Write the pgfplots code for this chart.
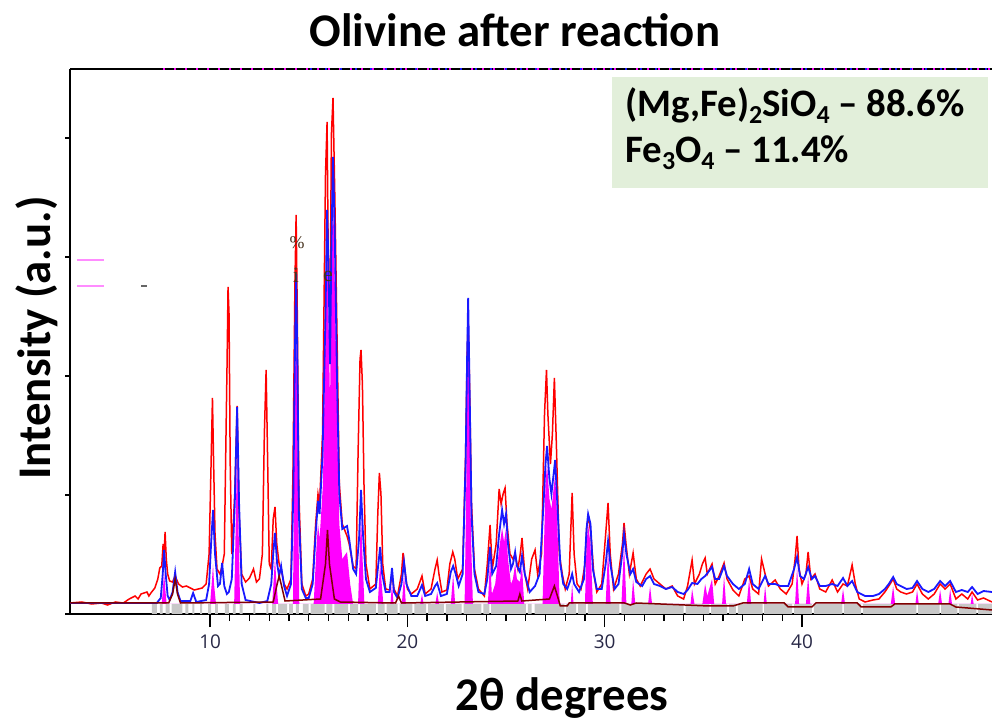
\documentclass[border=0pt]{standalone}
\usepackage{fontspec}
\setmainfont{Carlito}
\newfontfamily\tickfont{Open Sans}
\newfontfamily\serifmark{Liberation Serif}
\usepackage{pgfplots}
\pgfplotsset{compat=1.18}
\definecolor{boxgreen}{RGB}{226,239,218}
\definecolor{ticktext}{RGB}{40,40,70}
\definecolor{dred}{RGB}{128,0,0}
\definecolor{bl}{RGB}{25,25,255}
\definecolor{mag}{RGB}{255,0,255}
\definecolor{rd}{RGB}{255,0,0}
\definecolor{band}{RGB}{200,200,200}
\definecolor{marktext}{RGB}{70,50,30}
\begin{document}
\begin{tikzpicture}
\path[use as bounding box] (-70bp,-107bp) rectangle (922bp,614bp);
\begin{axis}[
 at={(0,0)}, anchor=south west,
 scale only axis, width=922bp, height=545bp,
 xmin=2.9, xmax=49.63, ymin=0, ymax=545,
 axis x line*=box, axis y line*=left,
 xtick={10,20,30,40}, minor x tick num=9,
 ytick=\empty,
 tick align=outside, xtick pos=bottom,
 major tick length=13bp, minor tick length=7bp,
 every tick/.style={black, line width=1.3bp},
 axis line style={black, line width=1.8bp},
 xticklabel style={font=\tickfont\fontsize{19}{19}\selectfont, text=ticktext, yshift=-4bp},
 /pgf/number format/assume math mode=true,
]
% grey reflection band
\addplot[ybar interval, fill=band, draw=none] coordinates {
(7.05,10)(7.3,0)(7.45,10)(7.6,0)(7.75,10)(7.95,0)(8.05,10)(8.6,0)(8.75,10)(8.9,0)(9.1,10)(9.2,0)(9.5,10)(9.6,0)(9.9,10)(10.05,0)(10.25,10)(10.4,0)(10.75,10)(10.95,0)(11.15,10)(11.3,0)(11.5,10)(11.65,0)(12.2,10)(12.3,0)(12.85,10)(12.95,0)(13.15,10)(13.35,0)(13.45,10)(13.9,0)(14.0,10)(14.2,0)(14.35,10)(14.5,0)(14.7,10)(15.0,0)(15.1,10)(15.8,0)(15.9,10)(16.2,0)(16.3,10)(17.0,0)(17.1,10)(17.5,0)(17.6,10)(18.4,0)(18.5,10)(18.85,0)(18.95,10)(19.5,0)(19.6,10)(20.25,0)(20.35,10)(20.95,0)(21.05,10)(21.85,0)(21.95,10)(22.75,0)(22.85,10)(23.75,0)(23.85,10)(24.15,0)(24.25,10)(26.0,0)(26.1,10)(26.3,0)(26.45,10)(27.95,0)(28.05,10)(28.55,0)(28.65,10)(29.05,0)(29.15,10)(30.75,0)(30.85,10)(34.0,0)(34.1,10)(35.3,0)(35.4,10)(36.2,0)(36.3,10)(36.65,0)(36.75,10)(38.0,0)(38.08,10)(39.5,0)(39.6,10)(40.5,0)(40.6,10)(42.05,0)(42.12,10)(43.0,0)(43.08,10)(45.8,0)(45.88,10)(46.97,0)(47.05,10)(47.87,0)(47.95,10)(48.84,0)(48.92,10)(49.63,10)};
% observed (red)
\addplot[rd, line width=1.5bp] coordinates {
(2.9,11)(3.5,12)(4.0,10)(4.5,11)(4.8,9)(5.2,12)(5.6,11)(5.9,15)(6.2,18)(6.35,15)(6.5,20)(6.8,22)(6.9,18)(7.0,21)(7.2,26)(7.35,35)(7.45,46)(7.55,48)(7.62,70)(7.67,60)(7.72,82)(7.78,55)(7.85,40)(7.95,33)(8.1,32)(8.23,38)(8.4,30)(8.6,27)(8.8,28)(9.0,26)(9.2,24)(9.4,25)(9.6,26)(9.8,30)(9.95,60)(10.05,150)(10.12,216)(10.18,150)(10.25,80)(10.35,45)(10.5,40)(10.61,48)(10.72,60)(10.8,170)(10.86,250)(10.91,327)(10.96,300)(11.02,150)(11.1,60)(11.25,120)(11.37,208)(11.47,100)(11.6,40)(11.8,32)(12.0,36)(12.2,45)(12.35,32)(12.5,35)(12.65,60)(12.75,180)(12.84,244)(12.92,150)(13.0,50)(13.1,45)(13.2,95)(13.29,107)(13.38,70)(13.5,50)(13.6,45)(13.75,30)(13.9,25)(14.1,35)(14.2,140)(14.3,330)(14.36,399)(14.42,300)(14.5,120)(14.65,30)(14.85,18)(15.0,20)(15.2,35)(15.35,90)(15.47,120)(15.55,110)(15.7,180)(15.85,440)(15.93,492)(16.0,330)(16.08,300)(16.15,480)(16.23,516)(16.32,420)(16.44,270)(16.55,130)(16.7,90)(16.94,78)(17.05,70)(17.25,48)(17.4,45)(17.5,160)(17.6,255)(17.65,264)(17.72,230)(17.8,130)(17.9,50)(18.1,25)(18.4,30)(18.5,100)(18.58,141)(18.66,120)(18.75,50)(18.9,25)(19.1,24)(19.22,40)(19.32,25)(19.5,18)(19.7,40)(19.78,61)(19.9,40)(20.0,25)(20.2,20)(20.5,25)(20.74,38)(20.9,20)(21.2,25)(21.4,45)(21.51,54)(21.6,40)(21.75,22)(22.0,24)(22.15,50)(22.3,62)(22.4,55)(22.55,35)(22.8,45)(22.95,160)(23.03,260)(23.08,294)(23.14,240)(23.25,110)(23.4,45)(23.6,25)(23.9,18)(24.05,50)(24.19,89)(24.3,45)(24.5,70)(24.65,125)(24.75,110)(24.85,120)(24.95,126)(25.05,90)(25.2,60)(25.35,55)(25.46,60)(25.6,45)(25.72,60)(25.81,76)(25.95,40)(26.1,25)(26.3,55)(26.47,64)(26.6,40)(26.8,60)(26.95,200)(27.05,244)(27.12,200)(27.25,150)(27.35,180)(27.45,236)(27.55,170)(27.7,60)(27.85,40)(28.0,25)(28.2,40)(28.35,121)(28.45,60)(28.6,30)(28.8,25)(29.0,50)(29.1,90)(29.2,95)(29.3,80)(29.45,40)(29.6,22)(29.85,30)(30.05,80)(30.17,111)(30.28,60)(30.45,25)(30.7,40)(30.9,70)(30.98,91)(31.08,70)(31.25,40)(31.44,61)(31.6,35)(31.8,28)(32.1,40)(32.3,45)(32.5,35)(32.8,30)(33.1,25)(33.42,28)(33.7,18)(34.0,15)(34.2,28)(34.43,54)(34.55,30)(34.8,40)(34.95,50)(35.09,56)(35.2,40)(35.44,50)(35.6,30)(35.8,38)(36.05,51)(36.2,35)(36.5,24)(36.8,18)(37.1,35)(37.32,38)(37.5,25)(37.8,20)(37.95,55)(38.13,40)(38.3,28)(38.64,34)(38.9,25)(39.2,20)(39.5,30)(39.65,55)(39.75,78)(39.85,45)(40.0,30)(40.2,40)(40.31,62)(40.45,35)(40.66,40)(40.9,25)(41.2,22)(41.53,34)(41.8,22)(42.08,30)(42.3,28)(42.54,49)(42.7,30)(42.9,15)(43.2,12)(43.6,14)(43.9,15)(44.2,22)(44.4,28)(44.62,35)(44.8,25)(45.0,22)(45.3,20)(45.6,22)(45.83,30)(46.1,20)(46.4,15)(46.7,20)(47.0,30)(47.25,25)(47.51,30)(47.8,15)(48.1,20)(48.4,15)(48.62,22)(48.9,14)(49.2,16)(49.63,12)};
% phase contribution (magenta fill)
\addplot[fill=mag, draw=none] coordinates {
(2.9,10)(7.55,10)(7.62,28)(7.67,42)(7.73,25)(7.8,10)(10.0,10)(10.1,35)(10.15,50)(10.2,30)(10.3,10)(11.22,10)(11.3,90)(11.37,172)(11.44,90)(11.52,10)(13.15,10)(13.24,40)(13.29,56)(13.35,35)(13.45,10)(14.2,10)(14.3,220)(14.36,322)(14.42,200)(14.52,10)(15.25,10)(15.4,70)(15.47,90)(15.55,75)(15.72,130)(15.85,280)(15.93,382)(16.0,300)(16.08,210)(16.15,340)(16.23,432)(16.32,330)(16.44,190)(16.55,90)(16.7,55)(16.94,62)(17.1,30)(17.25,10)(17.5,10)(17.6,70)(17.65,100)(17.72,60)(17.82,10)(18.5,10)(18.58,38)(18.62,50)(18.68,35)(18.78,10)(19.14,10)(19.22,30)(19.3,10)(19.72,10)(19.83,40)(19.92,10)(20.65,10)(20.74,20)(20.82,10)(21.42,10)(21.51,22)(21.6,10)(22.2,10)(22.32,40)(22.42,10)(22.9,10)(22.98,120)(23.03,230)(23.08,300)(23.14,220)(23.22,80)(23.32,10)(24.08,10)(24.19,55)(24.28,20)(24.45,30)(24.65,65)(24.8,86)(24.9,72)(25.0,86)(25.1,55)(25.25,30)(25.35,35)(25.46,50)(25.55,35)(25.7,32)(25.81,48)(25.92,10)(26.85,10)(26.95,90)(27.0,130)(27.08,150)(27.2,115)(27.3,105)(27.49,140)(27.6,90)(27.72,10)(28.28,10)(28.35,30)(28.42,10)(29.0,10)(29.08,70)(29.16,90)(29.28,70)(29.4,10)(30.05,10)(30.17,65)(30.3,10)(30.85,10)(30.98,70)(31.1,10)(31.35,10)(31.44,35)(31.55,10)(32.2,10)(32.3,28)(32.4,10)(34.35,10)(34.43,25)(34.55,10)(34.95,10)(35.09,30)(35.2,18)(35.44,35)(35.55,10)(35.95,10)(36.05,38)(36.15,10)(37.2,10)(37.32,35)(37.42,10)(38.05,10)(38.13,28)(38.22,10)(39.65,10)(39.75,47)(39.85,10)(40.2,10)(40.31,38)(40.42,10)(41.98,10)(42.08,25)(42.18,10)(44.5,10)(44.62,28)(44.72,10)(45.75,10)(45.83,24)(45.92,10)(46.9,10)(47.0,24)(47.1,10)(47.42,10)(47.51,25)(47.6,10)(48.55,10)(48.62,20)(48.7,10)(49.63,10)};
% calculated (blue)
\addplot[bl, line width=1.8bp] coordinates {
(2.9,11)(7.3,11)(7.5,16)(7.6,40)(7.67,64)(7.75,40)(7.85,18)(7.95,14)(8.1,22)(8.23,42)(8.35,22)(8.5,13)(9.0,13)(9.14,21)(9.3,12)(9.8,14)(9.95,30)(10.05,70)(10.15,104)(10.25,60)(10.4,28)(10.5,30)(10.61,51)(10.72,28)(10.85,20)(10.95,22)(11.1,35)(11.25,110)(11.37,207)(11.47,110)(11.6,30)(11.8,14)(12.5,11)(12.9,13)(13.1,30)(13.2,60)(13.29,81)(13.4,50)(13.5,38)(13.6,48)(13.75,28)(13.9,18)(14.1,30)(14.22,120)(14.3,260)(14.36,340)(14.42,260)(14.5,100)(14.65,25)(14.85,16)(15.0,16)(15.2,30)(15.35,80)(15.47,113)(15.55,100)(15.7,160)(15.85,300)(15.93,404)(16.0,350)(16.08,250)(16.15,370)(16.23,457)(16.32,380)(16.44,225)(16.55,120)(16.7,85)(16.94,88)(17.05,75)(17.25,45)(17.4,40)(17.55,75)(17.65,124)(17.75,80)(17.9,35)(18.1,22)(18.4,26)(18.5,45)(18.62,67)(18.72,40)(18.9,22)(19.1,22)(19.22,46)(19.32,22)(19.5,16)(19.7,30)(19.83,52)(19.95,30)(20.2,18)(20.5,18)(20.74,29)(20.9,18)(21.2,20)(21.4,28)(21.51,31)(21.7,18)(22.0,20)(22.2,42)(22.32,48)(22.45,40)(22.6,28)(22.8,40)(22.95,150)(23.03,260)(23.08,316)(23.14,240)(23.25,100)(23.4,40)(23.6,22)(23.9,20)(24.05,35)(24.19,67)(24.3,40)(24.5,48)(24.65,80)(24.8,104)(24.9,90)(25.0,100)(25.1,70)(25.25,45)(25.35,50)(25.46,62)(25.55,48)(25.7,42)(25.81,58)(25.95,40)(26.2,22)(26.47,28)(26.7,40)(26.9,110)(27.0,150)(27.08,168)(27.2,135)(27.3,120)(27.49,154)(27.6,110)(27.75,50)(27.9,30)(28.1,25)(28.25,33)(28.35,40)(28.45,30)(28.7,22)(28.95,35)(29.08,85)(29.16,100)(29.28,90)(29.4,45)(29.6,25)(29.85,25)(30.05,50)(30.17,73)(30.3,48)(30.5,25)(30.7,30)(30.9,62)(30.98,80)(31.1,60)(31.3,40)(31.44,45)(31.6,32)(31.9,28)(32.1,35)(32.3,38)(32.5,30)(32.8,28)(33.1,25)(33.42,27)(33.7,22)(34.0,20)(34.2,24)(34.43,31)(34.7,30)(34.9,35)(35.09,38)(35.25,42)(35.44,47)(35.6,35)(35.8,35)(36.05,48)(36.2,38)(36.5,30)(36.8,25)(37.1,30)(37.32,45)(37.5,30)(37.8,25)(38.13,38)(38.3,30)(38.64,30)(38.9,28)(39.3,28)(39.6,45)(39.75,57)(39.9,38)(40.1,35)(40.31,47)(40.5,35)(40.66,38)(40.9,28)(41.2,28)(41.53,30)(41.8,28)(42.08,36)(42.3,28)(42.54,33)(42.8,22)(43.2,18)(43.6,18)(43.9,20)(44.2,25)(44.4,30)(44.62,37)(44.8,30)(45.0,28)(45.3,25)(45.6,26)(45.83,33)(46.1,25)(46.4,22)(46.7,25)(47.0,33)(47.25,28)(47.51,33)(47.8,22)(48.1,24)(48.4,22)(48.62,27)(48.9,20)(49.2,23)(49.63,22)};
% Fe3O4 contribution (dark red)
\addplot[dred, line width=1.5bp] coordinates {
(2.9,11)(7.9,11)(8.1,20)(8.23,35)(8.35,20)(8.5,11)(13.2,12)(13.4,30)(13.5,38)(13.6,30)(13.8,13)(15.6,15)(15.85,50)(15.95,84)(16.05,50)(16.3,15)(16.6,12)(19.4,11)(19.55,18)(19.7,11)(25.6,13)(25.7,20)(25.8,13)(27.2,15)(27.45,28)(27.65,15)(27.75,8)(28.1,8)(28.2,11)(31.0,11)(31.3,9)(31.6,11)(35.3,8)(36.5,8)(37.0,11)(39.1,11)(39.3,7)(40.5,7)(40.7,11)(42.8,11)(43.0,7)(44.5,7)(44.7,10)(47.5,10)(47.8,7)(49.63,4)};
% stray marks at left
\addplot[mag!45, line width=1.2bp] coordinates {(3.26,354)(4.63,354)};
\addplot[mag!45, line width=1.2bp] coordinates {(3.26,328)(4.63,328)};
\addplot[black!60, line width=1.2bp] coordinates {(6.5,328)(6.8,328)};
\end{axis}
% peak annotations (drawn on top)
\node[text=marktext, font=\serifmark\fontsize{18}{18}\selectfont] at (227bp,371bp) {\%};
\node[text=marktext, font=\serifmark\fontsize{22}{22}\selectfont] at (226bp,339bp) {i};
\node[text=marktext, font=\serifmark\fontsize{22}{22}\selectfont] at (258bp,338bp) {e};
% y ticks
\foreach \yy in {0,119,238,357,476} {\draw[line width=1.3bp] (0,\yy bp) -- ++(-5bp,0);}
% coloured reflection specks on top line
\draw[mag, line width=1.6bp, dash pattern=on 2bp off 9bp] (93bp,545bp) -- (922bp,545bp);
\draw[bl, line width=1.6bp, dash pattern=on 2bp off 13bp, dash phase=5bp] (230bp,545bp) -- (922bp,545bp);
% titles
\node[anchor=base, font=\bfseries\fontsize{47}{50}\selectfont] at (445bp,567bp) {Olivine after reaction};
\node[anchor=base, font=\bfseries\fontsize{47}{50}\selectfont] at (492bp,-96bp) {2θ degrees};
\node[anchor=base, rotate=90, font=\bfseries\fontsize{47}{50}\selectfont] at (-20bp,276bp) {Intensity (a.u.)};
% composition box
\fill[boxgreen] (542bp,426bp) rectangle (918bp,537bp);
\node[anchor=base west, inner sep=0pt, font=\bfseries\fontsize{39}{42}\selectfont] at (555bp,497bp) {(Mg,Fe)\raisebox{-7bp}{\fontsize{26}{26}\selectfont 2}SiO\raisebox{-7bp}{\fontsize{26}{26}\selectfont 4} – 88.6\%};
\node[anchor=base west, inner sep=0pt, font=\bfseries\fontsize{39}{42}\selectfont] at (555bp,451bp) {Fe\raisebox{-7bp}{\fontsize{26}{26}\selectfont 3}O\raisebox{-7bp}{\fontsize{26}{26}\selectfont 4} – 11.4\%};
\end{tikzpicture}
\end{document}
